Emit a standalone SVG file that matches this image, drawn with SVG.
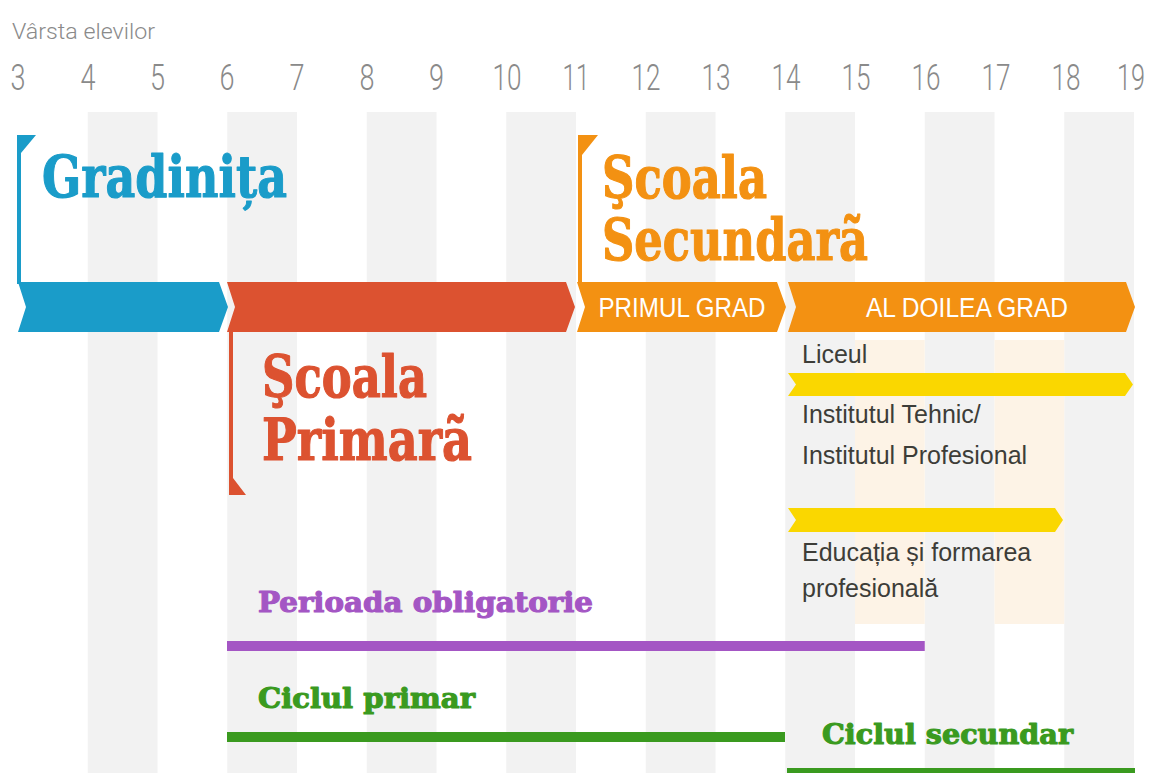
<svg xmlns="http://www.w3.org/2000/svg" width="1153" height="773" viewBox="0 0 1153 773">
<style>
.stripe{fill:#f2f2f2}
.peach{fill:#fdf3e6}
.axis{font-family:Roboto,"DejaVu Sans",sans-serif;font-weight:300;fill:#8a8a8a}
.title{font-family:"DejaVu Serif",serif;font-weight:bold;stroke-width:1.2;stroke-linejoin:round}
.bartxt{font-family:"Liberation Sans",Arial,sans-serif;fill:#ffffff;font-size:27px}
.body{font-family:"Liberation Sans",Arial,sans-serif;fill:#3d3d38;font-size:25px}
.lab{font-family:"DejaVu Serif",serif;font-weight:bold;font-size:27px;stroke-width:1.1;stroke-linejoin:round}
</style>
<rect width="1153" height="773" fill="#ffffff"/>
<g id="stripes">
<rect class="stripe" x="87.75" y="112" width="69.75" height="661"/>
<rect class="stripe" x="227.25" y="112" width="69.75" height="661"/>
<rect class="stripe" x="366.75" y="112" width="69.75" height="661"/>
<rect class="stripe" x="506.25" y="112" width="69.75" height="661"/>
<rect class="stripe" x="645.75" y="112" width="69.75" height="661"/>
<rect class="stripe" x="785.25" y="112" width="69.75" height="661"/>
<rect class="stripe" x="924.75" y="112" width="69.75" height="661"/>
<rect class="stripe" x="1064.25" y="112" width="69.75" height="661"/>
<rect class="peach" x="855" y="340" width="69.75" height="284"/>
<rect class="peach" x="994.5" y="340" width="69.75" height="284"/>
</g>
<g id="axis">
<text class="axis" x="12" y="39" font-size="22" textLength="143" lengthAdjust="spacingAndGlyphs">Vârsta elevilor</text>
<g font-size="37" text-anchor="middle">
<text class="axis" x="18" y="90" textLength="15" lengthAdjust="spacingAndGlyphs">3</text>
<text class="axis" x="88" y="90" textLength="15" lengthAdjust="spacingAndGlyphs">4</text>
<text class="axis" x="157.5" y="90" textLength="15" lengthAdjust="spacingAndGlyphs">5</text>
<text class="axis" x="227" y="90" textLength="15" lengthAdjust="spacingAndGlyphs">6</text>
<text class="axis" x="297" y="90" textLength="15" lengthAdjust="spacingAndGlyphs">7</text>
<text class="axis" x="367" y="90" textLength="15" lengthAdjust="spacingAndGlyphs">8</text>
<text class="axis" x="436.5" y="90" textLength="15" lengthAdjust="spacingAndGlyphs">9</text>
<text class="axis" x="507" y="90" textLength="29" lengthAdjust="spacingAndGlyphs">10</text>
<text class="axis" x="576" y="90" textLength="27" lengthAdjust="spacingAndGlyphs">11</text>
<text class="axis" x="646" y="90" textLength="29" lengthAdjust="spacingAndGlyphs">12</text>
<text class="axis" x="716" y="90" textLength="29" lengthAdjust="spacingAndGlyphs">13</text>
<text class="axis" x="786" y="90" textLength="29" lengthAdjust="spacingAndGlyphs">14</text>
<text class="axis" x="856" y="90" textLength="29" lengthAdjust="spacingAndGlyphs">15</text>
<text class="axis" x="926" y="90" textLength="29" lengthAdjust="spacingAndGlyphs">16</text>
<text class="axis" x="996" y="90" textLength="29" lengthAdjust="spacingAndGlyphs">17</text>
<text class="axis" x="1066" y="90" textLength="29" lengthAdjust="spacingAndGlyphs">18</text>
<text class="axis" x="1145" y="90" text-anchor="end" textLength="28" lengthAdjust="spacingAndGlyphs">19</text>
</g>
</g>
<g id="gradinita">
<polygon fill="#1a9cc9" points="17,135 36,135 21,153 21,284 17,284"/>
<polygon fill="#1a9cc9" points="18,282 219,282 228,307 219,332 18,332 26,307"/>
<text class="title" x="42" y="197" font-size="58" fill="#1a9cc9" stroke="#1a9cc9" textLength="245" lengthAdjust="spacingAndGlyphs">Gradinița</text>
</g>
<g id="scoala-primara">
<polygon fill="#dc5230" points="227,282 566,282 575,307 566,332 227,332 235,307"/>
<polygon fill="#dc5230" points="229,330 233,330 233,478 246,495 229,495"/>
<text class="title" x="262" y="397" font-size="58" fill="#dc5230" stroke="#dc5230" textLength="165" lengthAdjust="spacingAndGlyphs">Şcoala</text>
<text class="title" x="262" y="460" font-size="58" fill="#dc5230" stroke="#dc5230" textLength="210" lengthAdjust="spacingAndGlyphs">Primarã</text>
</g>
<g id="scoala-secundara">
<polygon fill="#f39112" points="578,135 598,135 582,155 582,284 578,284"/>
<text class="title" x="602" y="198" font-size="58" fill="#f39112" stroke="#f39112" textLength="165" lengthAdjust="spacingAndGlyphs">Şcoala</text>
<text class="title" x="602" y="260" font-size="58" fill="#f39112" stroke="#f39112" textLength="266" lengthAdjust="spacingAndGlyphs">Secundarã</text>
</g>
<g id="primul-grad">
<polygon fill="#f39112" points="577,282 777,282 786,307 777,332 577,332 585,307"/>
<text class="bartxt" x="682" y="317" text-anchor="middle" textLength="167" lengthAdjust="spacingAndGlyphs">PRIMUL GRAD</text>
</g>
<g id="al-doilea-grad">
<polygon fill="#f39112" points="788,282 1126,282 1135,307 1126,332 788,332 796,307"/>
<text class="bartxt" x="967" y="317" text-anchor="middle" textLength="202" lengthAdjust="spacingAndGlyphs">AL DOILEA GRAD</text>
</g>
<g id="liceul">
<text class="body" x="802" y="363">Liceul</text>
<polygon fill="#fad700" points="788,373 1125,373 1133,384.5 1125,396 788,396 796,384.5"/>
</g>
<g id="institutul">
<text class="body" x="802" y="423">Institutul Tehnic/</text>
<text class="body" x="802" y="464">Institutul Profesional</text>
<polygon fill="#fad700" points="788,508 1055,508 1063,520 1055,532 788,532 796,520"/>
</g>
<g id="educatia">
<text class="body" x="802" y="561">Educația și formarea</text>
<text class="body" x="802" y="597">profesională</text>
</g>
<g id="connectors">
<rect x="227" y="641" width="697.75" height="10" fill="#a456c4"/>
<rect x="227" y="732" width="558" height="10" fill="#3a9a1f"/>
<rect x="787" y="768" width="348" height="10" fill="#3a9a1f"/>
</g>
<g id="perioada">
<text class="lab" x="258" y="612" fill="#a456c4" stroke="#a456c4" textLength="335" lengthAdjust="spacingAndGlyphs">Perioada obligatorie</text>
</g>
<g id="ciclul-primar">
<text class="lab" x="258" y="708" fill="#3a9a1f" stroke="#3a9a1f" textLength="217" lengthAdjust="spacingAndGlyphs">Ciclul primar</text>
</g>
<g id="ciclul-secundar">
<text class="lab" x="822" y="744" fill="#3a9a1f" stroke="#3a9a1f" textLength="251" lengthAdjust="spacingAndGlyphs">Ciclul secundar</text>
</g>
</svg>
